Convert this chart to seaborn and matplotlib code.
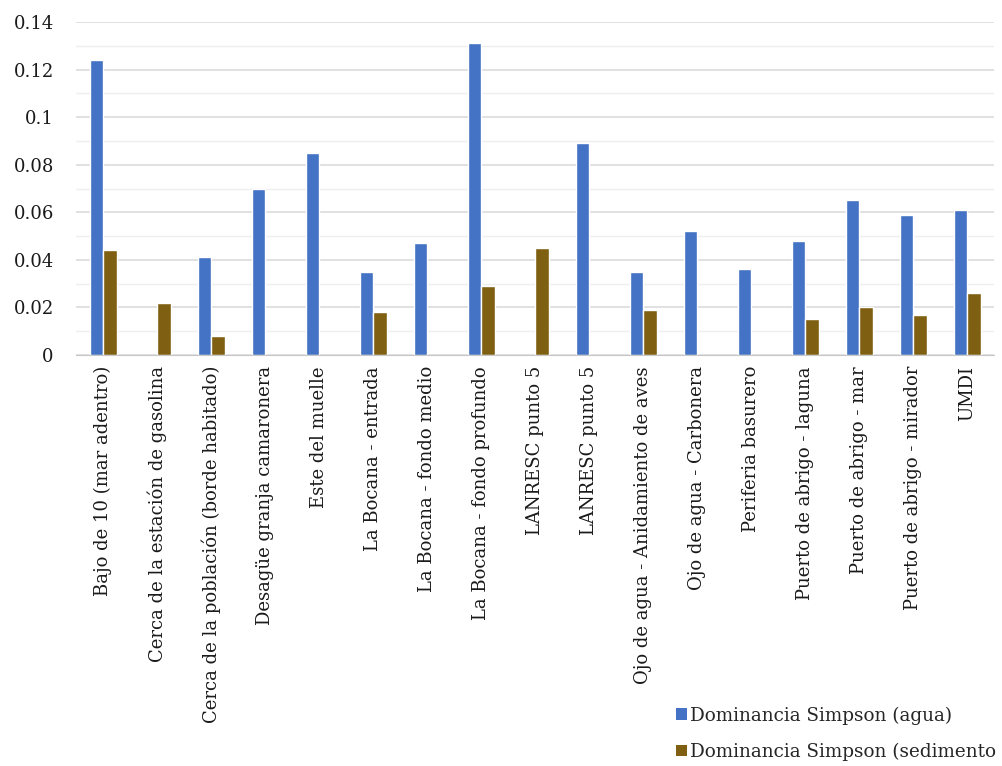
import matplotlib
matplotlib.use("Agg")
import matplotlib.pyplot as plt
from matplotlib.ticker import FuncFormatter, MultipleLocator
from matplotlib.patches import Patch
import numpy as np
import pandas as pd
import seaborn as sns

# puntos de muestreo
sitios = ['Bajo de 10 (mar adentro)', 'Cerca de la estación de gasolina',
          'Cerca de la población (borde habitado)', 'Desagüe granja camaronera',
          'Este del muelle', 'La Bocana - entrada', 'La Bocana - fondo medio',
          'La Bocana - fondo profundo', 'LANRESC punto 5', 'LANRESC punto 5',
          'Ojo de agua - Anidamiento de aves', 'Ojo de agua - Carbonera',
          'Periferia basurero', 'Puerto de abrigo - laguna', 'Puerto de abrigo - mar',
          'Puerto de abrigo - mirador', 'UMDI']

agua = [0.124, np.nan, 0.041, 0.070, 0.085, 0.035, 0.047, 0.131, np.nan, 0.089,
        0.035, 0.052, 0.036, 0.048, 0.065, 0.059, 0.061]
sedimento = [0.044, 0.022, 0.008, np.nan, np.nan, 0.018, np.nan, 0.029, 0.045, np.nan,
             0.019, np.nan, np.nan, 0.015, 0.020, 0.017, 0.026]

# la leyenda original aparece recortada en el borde
series = ['Dominancia Simpson (agua)', 'Dominancia Simpson (sedimento']
colores = ['#4472c4', '#7f6012']

sns.set_style('white')
plt.rcParams['font.family'] = ['DejaVu Serif']

# nombres repetidos (LANRESC punto 5) -> usar posicion como categoria
pos = [str(i) for i in range(len(sitios))]
df = pd.DataFrame({
    'pos': pos * 2,
    'valor': agua + sedimento,
    'serie': [series[0]] * len(sitios) + [series[1]] * len(sitios),
})

fig = plt.figure(figsize=(10.02, 7.66), dpi=100)
ax = fig.add_axes([76 / 1002, 1 - 355 / 766, (994 - 76) / 1002, (355 - 22) / 766])

sns.barplot(data=df, x='pos', y='valor', hue='serie', order=pos, hue_order=series,
            palette=colores, saturation=1, width=0.5, ax=ax, legend=False)

ax.set_ylim(0, 0.14)
ax.set_xlim(-0.5, len(sitios) - 0.5)
ax.yaxis.set_major_locator(MultipleLocator(0.02))
ax.yaxis.set_minor_locator(MultipleLocator(0.01))
ax.yaxis.set_major_formatter(FuncFormatter(lambda v, p: '{:g}'.format(round(v, 2))))
ax.grid(axis='y', which='major', color='#d9d9d9', linewidth=1.1)
ax.grid(axis='y', which='minor', color='#eeeeee', linewidth=1.0)
ax.set_axisbelow(True)

for s in ['top', 'right', 'left']:
    ax.spines[s].set_visible(False)
ax.spines['bottom'].set_color('#c8c8c8')

ax.set_xticks(range(len(sitios)))
ax.set_xticklabels(sitios, rotation=90, fontsize=13, color='#1a1a1a')
ax.tick_params(axis='y', labelsize=13, colors='#1a1a1a', length=0, pad=16)
ax.tick_params(axis='x', length=0, pad=8)
ax.set_xlabel('')
ax.set_ylabel('')

handles = [Patch(facecolor=c, edgecolor='none') for c in colores]
fig.legend(handles, series, loc='upper left', bbox_to_anchor=(669 / 1002, 1 - 699 / 766),
           frameon=False, fontsize=13.2, handlelength=0.6, handleheight=0.6,
           handletextpad=0.15, labelspacing=0.98, borderaxespad=0)

plt.savefig('out.png', dpi=100)
